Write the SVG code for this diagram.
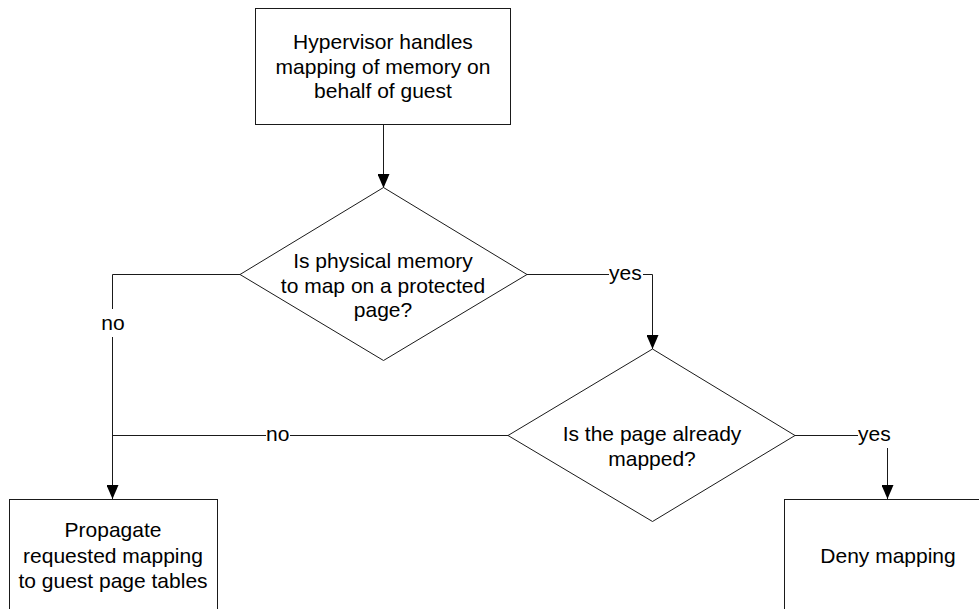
<svg xmlns="http://www.w3.org/2000/svg" width="979" height="609" viewBox="0 0 979 609">
  <style>
    .shape { fill: #ffffff; stroke: #1a1a1a; stroke-width: 1; }
    .conn { fill: none; stroke: #1a1a1a; stroke-width: 1; }
    .label { font-family: "Liberation Sans", Arial, sans-serif; font-size: 21px; fill: #000000; }
    .mid { text-anchor: middle; }
  </style>
  <defs>
    <marker id="arrow" markerUnits="userSpaceOnUse" markerWidth="14" markerHeight="12" refX="14" refY="6" orient="auto">
      <path d="M0,0 L14,6 L0,12 z" fill="#000000"/>
    </marker>
  </defs>

  <rect width="979" height="609" fill="#ffffff"/>

  <!-- connectors -->
  <g id="connectors">
    <!-- start to first decision -->
    <path class="conn" d="M383.5,124.5 V188" marker-end="url(#arrow)"/>
    <!-- first decision: yes -->
    <path class="conn" d="M527,274.5 H609"/>
    <path class="conn" d="M643,274.5 H652.5 V349" marker-end="url(#arrow)"/>
    <text class="label" x="609" y="280">yes</text>
    <!-- first decision: no -->
    <path class="conn" d="M240,274.5 H112.5 V309"/>
    <path class="conn" d="M112.5,337 V499" marker-end="url(#arrow)"/>
    <text class="label mid" x="113" y="330">no</text>
    <!-- second decision: no -->
    <path class="conn" d="M508,435.5 H290"/>
    <path class="conn" d="M266,435.5 H112.5"/>
    <text class="label" x="266" y="441">no</text>
    <!-- second decision: yes -->
    <path class="conn" d="M795,435.5 H858"/>
    <path class="conn" d="M887.5,448 V499" marker-end="url(#arrow)"/>
    <text class="label" x="858" y="441">yes</text>
  </g>

  <!-- start box -->
  <g id="start">
    <rect class="shape" x="255.5" y="8.5" width="255" height="116"/>
    <text class="label mid" x="383" y="49">Hypervisor handles</text>
    <text class="label mid" x="383" y="73.5">mapping of memory on</text>
    <text class="label mid" x="383" y="98">behalf of guest</text>
  </g>

  <!-- decision: protected page -->
  <g id="decision-protected">
    <polygon class="shape" points="383.5,187.5 527,274.5 383.5,360.5 240,274.5"/>
    <text class="label mid" x="383" y="268">Is physical memory</text>
    <text class="label mid" x="383" y="292.5">to map on a protected</text>
    <text class="label mid" x="383" y="317">page?</text>
  </g>

  <!-- decision: already mapped -->
  <g id="decision-mapped">
    <polygon class="shape" points="652.5,349 795,435.5 652.5,521.5 508,435.5"/>
    <text class="label mid" x="652" y="441">Is the page already</text>
    <text class="label mid" x="652" y="466">mapped?</text>
  </g>

  <!-- propagate box -->
  <g id="propagate">
    <rect class="shape" x="9.5" y="499.5" width="208" height="116"/>
    <text class="label mid" x="113" y="537">Propagate</text>
    <text class="label mid" x="113" y="562.5">requested mapping</text>
    <text class="label mid" x="113" y="588">to guest page tables</text>
  </g>

  <!-- deny box -->
  <g id="deny">
    <rect class="shape" x="784.5" y="499.5" width="208" height="116"/>
    <text class="label mid" x="888" y="563">Deny mapping</text>
  </g>
</svg>
